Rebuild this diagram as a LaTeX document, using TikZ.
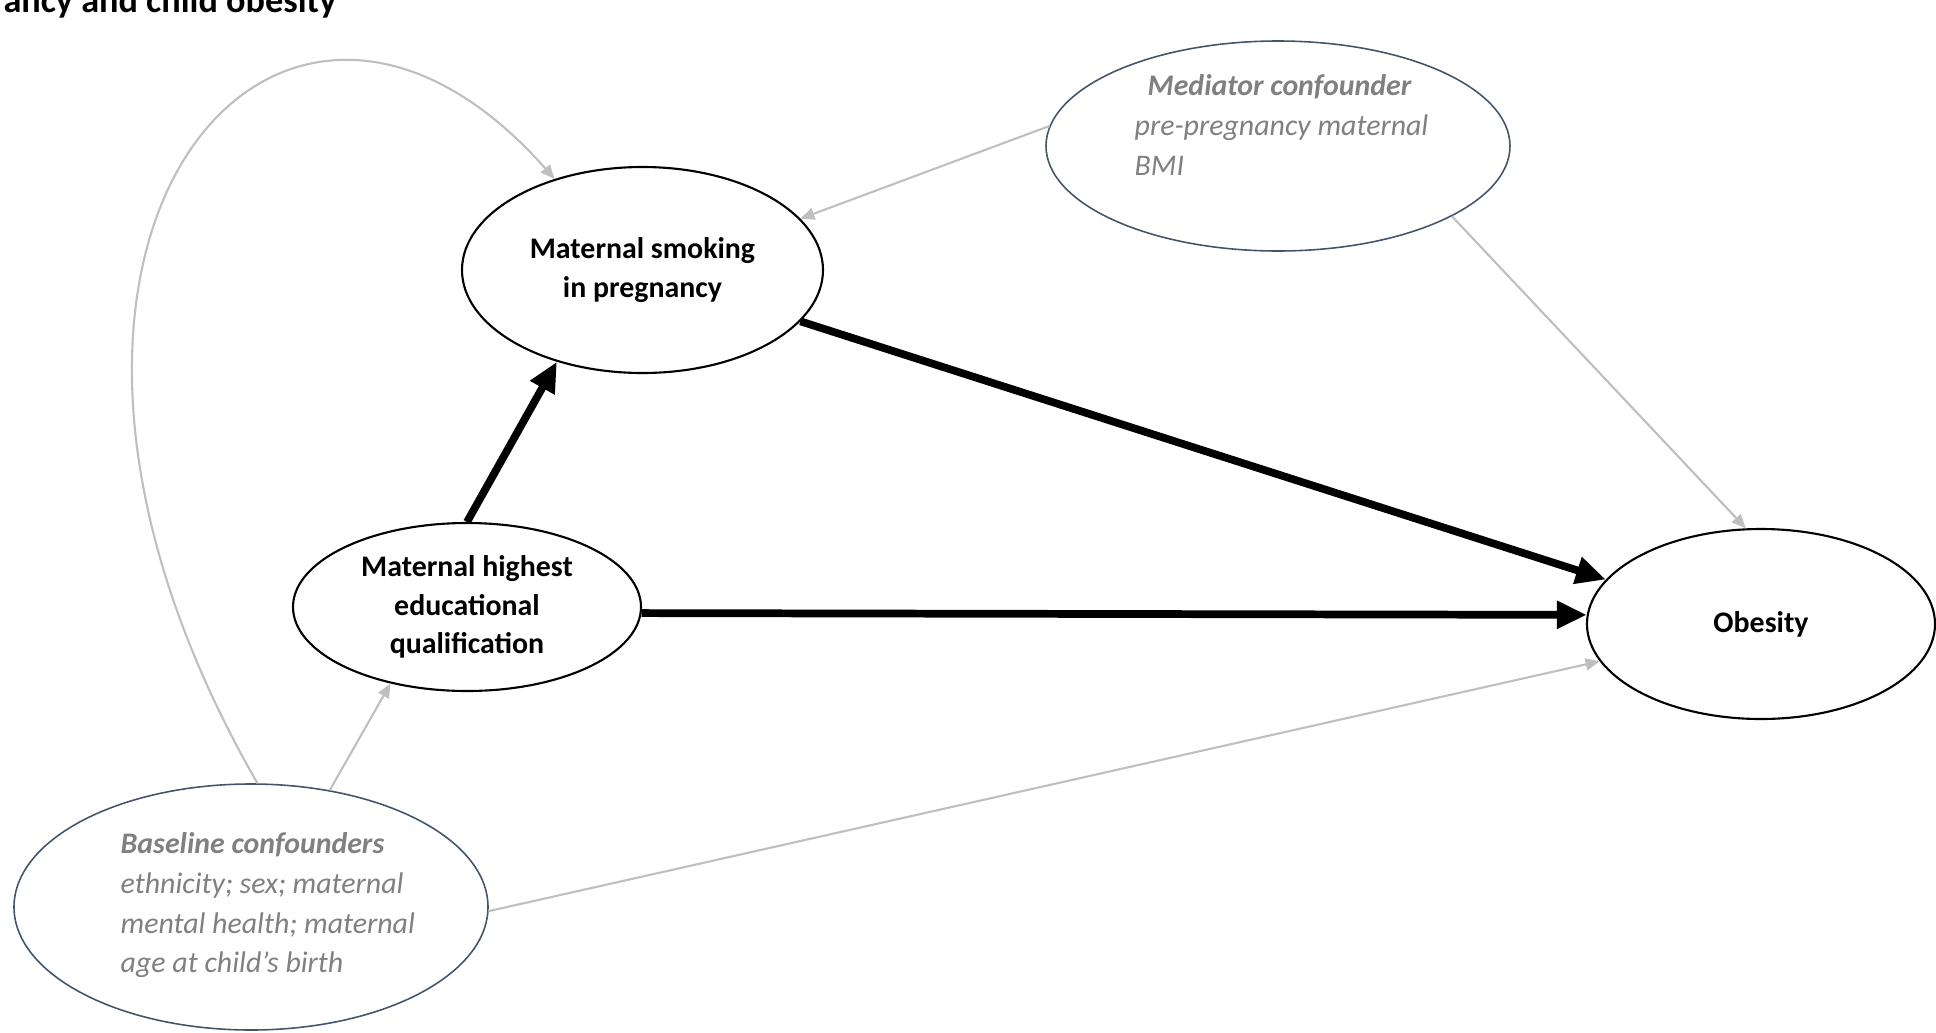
\documentclass[tikz,border=0pt]{standalone}
\usepackage{fontspec}
\setmainfont{Carlito}
\usetikzlibrary{shapes.geometric,arrows.meta}

\definecolor{confgray}{RGB}{128,128,128}
\definecolor{linkgray}{RGB}{191,191,191}
\definecolor{confedge}{RGB}{68,84,106}

\tikzset{
  mainvar/.style={ellipse,draw=black,line width=0.6pt,inner sep=0pt,align=center,
    font=\fontsize{8.5}{10.9}\selectfont\bfseries},
  confvar/.style={ellipse,draw=confedge,line width=0.45pt,inner sep=0pt},
  conftext/.style={anchor=north west,inner sep=0pt,align=left,text=confgray,
    font=\fontsize{8.5}{11.3}\selectfont\itshape},
  strongpath/.style={line width=2.2pt,-{Triangle[length=8.5pt,width=7.5pt]}},
  weakpath/.style={linkgray,line width=0.6pt,-{Triangle[length=4pt,width=3.4pt]}}
}

\begin{document}
\begin{tikzpicture}
    \useasboundingbox (0,0) rectangle (19.36,10.32);

    % Title, cut off at the top edge
    \node[anchor=base east,inner sep=0pt,font=\fontsize{10.3}{12}\selectfont\bfseries] (title) at (3.37,10.20) {ancy and child obesity};

    % Exposure, mediator and outcome
    \node[mainvar,minimum width=3.61cm,minimum height=2.06cm] (smoke) at (6.425,7.62) {Maternal smoking\\in pregnancy};
    \node[mainvar,minimum width=3.48cm,minimum height=1.68cm] (edu) at (4.67,4.25) {Maternal highest\\educational\\qualification};
    \node[mainvar,minimum width=3.48cm,minimum height=1.90cm] (obes) at (17.61,4.08) {Obesity};

    % Confounders
    \node[confvar,minimum width=4.64cm,minimum height=2.10cm] (med) at (12.78,8.86) {};
    \node[conftext] (medtext) at (11.34,9.58) {\hspace*{1.3mm}\textbf{Mediator confounder}\\pre-pregnancy maternal\\BMI};
    \node[confvar,minimum width=4.74cm,minimum height=2.46cm] (base) at (2.51,1.25) {};
    \node[conftext] (basetext) at (1.20,2.00) {\textbf{Baseline confounders}\\ethnicity; sex; maternal\\mental health; maternal\\age at child’s birth};

    % Main paths
    \draw[strongpath] (edu.north) -- (smoke.227);
    \draw[strongpath] (smoke.-18) -- (obes.164);
    \draw[strongpath] (edu.-2) -- (obes.177);

    % Confounder paths
    \draw[weakpath] (base.56) -- (edu.225);
    \draw[weakpath] (base.-1) -- (obes.193);
    \draw[weakpath] (med.175) -- (smoke.18);
    \draw[weakpath] (med.-22) -- (obes.99);
    \draw[weakpath] (base.87) .. controls (-0.52,7.86) and (2.75,11.70) .. (smoke.134);
\end{tikzpicture}
\end{document}
